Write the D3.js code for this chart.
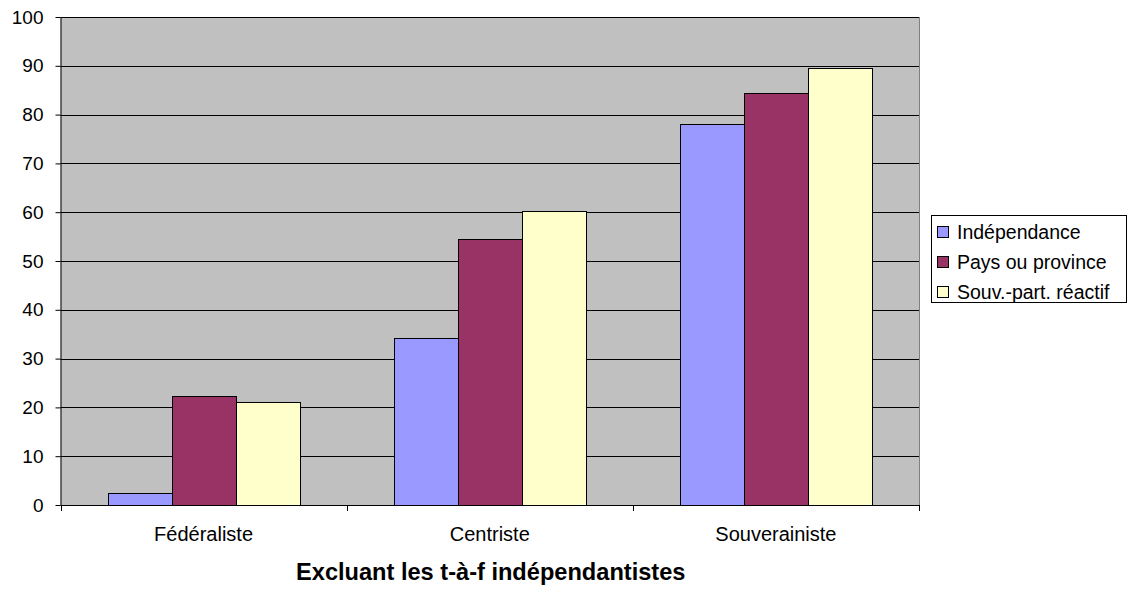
<!DOCTYPE html>
<html><head><meta charset="utf-8">
<script src="https://cdn.jsdelivr.net/npm/d3@7"></script>
<style>body{margin:0;background:#fff;}svg{display:block;font-family:Arial,"Liberation Sans",sans-serif;}</style>
</head><body><svg id="c" width="1135" height="589"></svg>
<script>
const categories = ["Fédéraliste", "Centriste", "Souverainiste"];
const seriesNames = ["Indépendance", "Pays ou province", "Souv.-part. réactif"];
const independance = [2.5, 34.2, 78.1];
const paysOuProvince = [22.3, 54.5, 84.4];
const souvPartReactif = [21.2, 60.2, 89.5];
const yTicks = [0, 10, 20, 30, 40, 50, 60, 70, 80, 90, 100];
const xTitle = "Excluant les t-à-f indépendantistes";
const colors = ["#9999FF", "#993366", "#FFFFCC"];

const series = [independance, paysOuProvince, souvPartReactif];
const FONT = "Arial, 'Liberation Sans', sans-serif";
const svg = d3.select("#c");
const L = 60.5, R = 919, T = 17, B = 505;

const x = d3.scaleBand().domain(categories).range([L, R]).paddingInner(0).paddingOuter(0);
const y = d3.scaleLinear().domain([0, 100]).range([B, T]);
const inner = d3.scaleBand().domain(d3.range(series.length)).range([0, x.bandwidth()]).paddingInner(0).paddingOuter(0.735);

svg.append("rect").attr("x", L).attr("y", T).attr("width", R - L).attr("height", B - T)
  .attr("fill", "#C0C0C0");

// gridlines
svg.append("g").selectAll("line").data(yTicks.filter(d => d > 0)).join("line")
  .attr("x1", L).attr("x2", R).attr("y1", d => Math.round(y(d)) + 0.5).attr("y2", d => Math.round(y(d)) + 0.5)
  .attr("stroke", "#000").attr("stroke-width", 1);

// right border
svg.append("line").attr("x1", R + 0.5).attr("x2", R + 0.5).attr("y1", T).attr("y2", B)
  .attr("stroke", "#808080");

// bars
const g = svg.append("g");
categories.forEach((c, ci) => {
  series.forEach((s, si) => {
    const x0 = x(c) + inner(si);
    g.append("rect")
      .attr("x", Math.round(x0) + 0.5)
      .attr("y", Math.round(y(s[ci])) + 0.5)
      .attr("width", Math.round(inner.bandwidth()))
      .attr("height", Math.round(B - y(s[ci])))
      .attr("fill", colors[si]).attr("stroke", "#000").attr("stroke-width", 1);
  });
});

// y axis
const yAxis = d3.axisLeft(y).tickValues(yTicks).tickSize(5).tickSizeOuter(0).tickPadding(12);
const ya = svg.append("g").attr("transform", `translate(${L},0)`).call(yAxis)
  .attr("font-size", 19).attr("font-family", FONT);
ya.select(".domain").attr("stroke", "#000");
ya.selectAll(".tick line").attr("stroke", "#000");
ya.selectAll(".tick text").attr("fill", "#000");

// x axis
svg.append("line").attr("x1", L).attr("x2", R + 1).attr("y1", B + 0.5).attr("y2", B + 0.5).attr("stroke", "#000");
const bounds = categories.map(c => x(c)).concat([x(categories[categories.length - 1]) + x.bandwidth()]);
svg.append("g").selectAll("line").data(bounds).join("line")
  .attr("x1", d => Math.round(d) + 0.5).attr("x2", d => Math.round(d) + 0.5)
  .attr("y1", B).attr("y2", B + 6).attr("stroke", "#000");
svg.append("g").selectAll("text").data(categories).join("text")
  .attr("x", d => x(d) + x.bandwidth() / 2).attr("y", 541)
  .attr("text-anchor", "middle").attr("font-size", 20).attr("font-family", FONT).attr("fill", "#000").text(d => d);

svg.append("text").attr("x", x(categories[1]) + x.bandwidth() / 2 + 1).attr("y", 580)
  .attr("text-anchor", "middle").attr("font-size", 23.6).attr("font-family", FONT).attr("font-weight", "bold").text(xTitle);

// legend
const lg = svg.append("g");
lg.append("rect").attr("x", 931.5).attr("y", 215.5).attr("width", 195).attr("height", 87)
  .attr("fill", "#fff").attr("stroke", "#000");
seriesNames.forEach((n, i) => {
  const top = 226 + i * 30;
  lg.append("rect").attr("x", 937.5).attr("y", top + 0.5).attr("width", 11).attr("height", 11)
    .attr("fill", colors[i]).attr("stroke", "#000");
  lg.append("text").attr("x", 957).attr("y", top + 13).attr("font-size", 19.5).attr("font-family", FONT).attr("fill", "#000").text(n);
});
</script></body></html>
